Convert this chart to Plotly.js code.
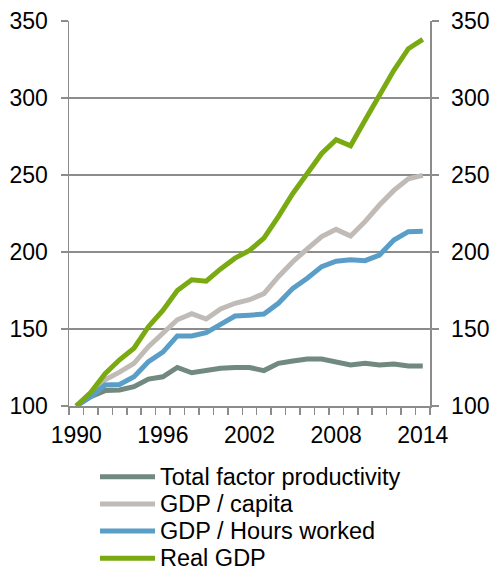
<!DOCTYPE html>
<html>
<head>
<meta charset="utf-8">
<script src="https://cdn.plot.ly/plotly-3.0.1.min.js"></script>
<style>
  html, body { margin: 0; padding: 0; background: #fff; }
  #chart { width: 493px; height: 567px; }
</style>
</head>
<body>
<div id="chart"></div>
<script>
// Index, 1990 = 100
const years = [1990, 1991, 1992, 1993, 1994, 1995, 1996, 1997, 1998, 1999,
               2000, 2001, 2002, 2003, 2004, 2005, 2006, 2007, 2008, 2009,
               2010, 2011, 2012, 2013, 2014];
const yearLabels = [1990, 1996, 2002, 2008, 2014];

const tfp = [100, 106, 110, 110.4, 112.6, 117.5, 119, 125, 121.6, 123.4,
             124.5, 125, 125, 123, 127.7, 129.2, 130.5, 130.5, 128.8, 126.6,
             127.7, 126.6, 127.3, 126, 126];
const gdpPerCapita = [100, 108.5, 117, 122, 127.7, 138.5, 147, 156, 160, 156.5,
                      163, 166.7, 169, 173, 184, 193.7, 202, 210, 214.7, 210.4,
                      219.7, 230.5, 240, 247.6, 249.8];
const gdpPerHour = [100, 106, 113.6, 114, 119, 128.8, 135, 145.5, 145.5, 147.6,
                    153, 158.4, 159, 159.7, 166.7, 176.4, 183, 190.5, 194, 195,
                    194.4, 198, 207.8, 213.2, 213.4];
const realGdp = [100, 108.7, 121, 130, 137.5, 151.5, 162, 175, 182, 181,
                 189, 196, 201, 209, 223, 238, 251, 264, 273, 269,
                 285.5, 302, 318, 332, 338];

const seriesNames = ['Total factor productivity', 'GDP / capita', 'GDP / Hours worked', 'Real GDP'];
const seriesValues = [tfp, gdpPerCapita, gdpPerHour, realGdp];
const seriesColors = ['#71897f', '#c0bbb6', '#5a9ec8', '#7aaa12'];

const W = 493, H = 567;
const M = { l: 69, r: 63, t: 21, b: 161 };
const plotW = W - M.l - M.r, plotH = H - M.t - M.b;
const px2x = p => (p - M.l) / plotW;
const px2y = p => (H - M.b - p) / plotH;

const FONT = 'Liberation Sans, Arial, sans-serif';
const AXIS = '#8c8c8c';

const traces = seriesValues.map((vals, i) => ({
  x: years, y: vals, type: 'scatter', mode: 'lines', name: seriesNames[i],
  line: { color: seriesColors[i], width: 5, shape: 'linear' },
  hoverinfo: 'skip'
}));
// right-hand axis carries the same scale
traces.push({ x: [], y: [], yaxis: 'y2', type: 'scatter', mode: 'lines', showlegend: false });

// legend drawn as line samples + labels below the plot
const shapes = [], annotations = [];
const legendRows = [476.7, 504, 531, 558.3];
seriesNames.forEach((name, i) => {
  shapes.push({
    type: 'line', xref: 'paper', yref: 'paper',
    x0: px2x(100), x1: px2x(155), y0: px2y(legendRows[i]), y1: px2y(legendRows[i]),
    line: { color: seriesColors[i], width: 5 }
  });
  annotations.push({
    xref: 'paper', yref: 'paper', x: px2x(158), y: px2y(legendRows[i]),
    xanchor: 'left', yanchor: 'middle', showarrow: false,
    text: name, font: { family: FONT, size: 23.5, color: '#000' }
  });
});

const yCommon = {
  range: [100, 350], tickvals: [100, 150, 200, 250, 300, 350],
  ticks: 'outside', ticklen: 7, tickwidth: 1.5, tickcolor: AXIS,
  showline: true, linecolor: AXIS, linewidth: 1.5, zeroline: false,
  tickfont: { family: FONT, size: 23, color: '#000' },
  ticklabelstandoff: 8, fixedrange: true
};

const layout = {
  width: W, height: H,
  margin: { l: M.l, r: M.r, t: M.t, b: M.b, pad: 0 },
  paper_bgcolor: '#fff', plot_bgcolor: '#fff',
  showlegend: false,
  xaxis: {
    range: [1989.5, 2014.5], tickvals: yearLabels,
    ticks: 'outside', ticklen: 7, tickcolor: 'rgba(0,0,0,0)',
    showgrid: false, zeroline: false,
    showline: true, linecolor: AXIS, linewidth: 1.5,
    minor: { ticks: 'outside', ticklen: 7, tickwidth: 1.5, tickcolor: AXIS,
             tick0: 1989.5, dtick: 1, showgrid: false },
    tickfont: { family: FONT, size: 23, color: '#000' },
    ticklabelstandoff: 1, fixedrange: true
  },
  yaxis: Object.assign({}, yCommon, { side: 'left', showgrid: true, gridcolor: AXIS, gridwidth: 1.5 }),
  yaxis2: Object.assign({}, yCommon, { side: 'right', overlaying: 'y', showgrid: false }),
  shapes: shapes,
  annotations: annotations
};

Plotly.newPlot('chart', traces, layout, { displayModeBar: false, staticPlot: true });
</script>
</body>
</html>
